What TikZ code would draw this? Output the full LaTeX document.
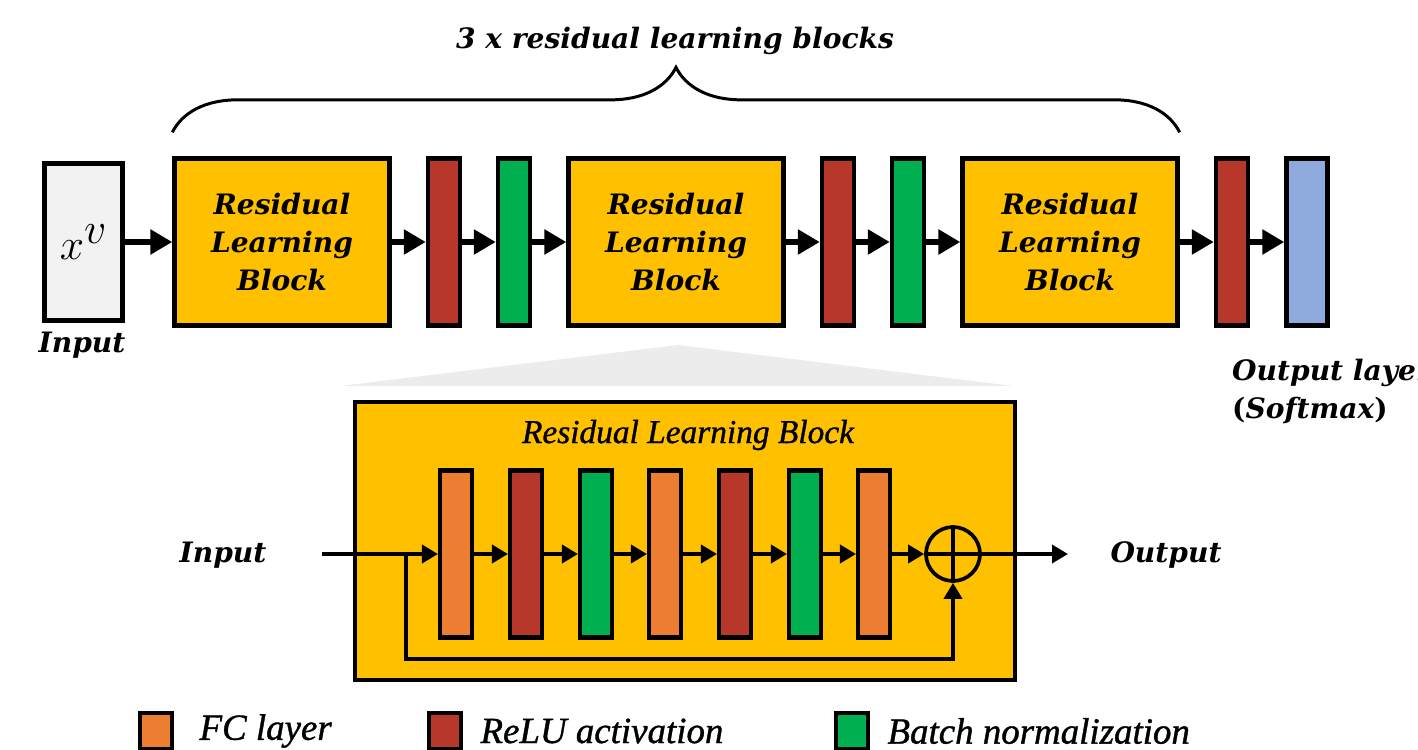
\documentclass[tikz,border=0pt]{standalone}
\usepackage{fontspec}
\setmainfont{DejaVu Serif}
\newfontfamily\legfont[FakeBold=1]{Liberation Serif}
\usetikzlibrary{arrows.meta, positioning, decorations.pathreplacing}
\definecolor{rlbyellow}{HTML}{FFC000}
\definecolor{fcorange}{HTML}{ED7D31}
\definecolor{relured}{HTML}{B7382A}
\definecolor{bngreen}{HTML}{00B050}
\definecolor{outblue}{HTML}{8FAADC}
\definecolor{ingrey}{HTML}{F2F2F2}
\tikzset{
  bbi/.style={font=\bfseries\itshape\fontsize{16}{21.8}\selectfont},
  legtxt/.style={font=\legfont\itshape\fontsize{21}{23}\selectfont, inner sep=0pt},
  blk/.style={rectangle, draw, line width=2.5pt, fill=rlbyellow, minimum width=4.3cm,
              minimum height=3.34cm, align=center, bbi},
  bar/.style={rectangle, draw, line width=2.5pt, minimum width=0.64cm, minimum height=3.34cm},
  ibar/.style={bar, line width=2.3pt},
  fc/.style={fill=fcorange},
  relu/.style={fill=relured},
  bnorm/.style={fill=bngreen},
  legsq/.style={rectangle, draw, line width=2.5pt, minimum width=0.64cm, minimum height=0.72cm},
  thickarr/.style={line width=3.4pt, -{Triangle[length=0.44cm, width=0.48cm]}},
  thinarr/.style={line width=2.1pt, -{Triangle[length=0.32cm, width=0.36cm]}},
}
\begin{document}
\begin{tikzpicture}[x=0.02cm, y=-0.02cm]
  \useasboundingbox (0,0) rectangle (1418,750);
  % top row
  \node[rectangle, draw, line width=2.5pt, fill=ingrey, minimum width=1.56cm, minimum height=3.14cm]
    (xin) at (83.5,242) {\fontsize{34}{36}\selectfont$x^{v}$};
  \node[bbi] (inlbl) at (82,345) {Input};
  \node[blk] (rlb1) at (282,242) {Residual\\Learning\\Block};
  \node[bar, relu] (r1) at (444,242) {};
  \node[bar, bnorm] (g1) at (514,242) {};
  \node[blk] (rlb2) at (676,242) {Residual\\Learning\\Block};
  \node[bar, relu] (r2) at (838,242) {};
  \node[bar, bnorm] (g2) at (908,242) {};
  \node[blk] (rlb3) at (1070,242) {Residual\\Learning\\Block};
  \node[bar, relu] (r3) at (1232,242) {};
  \node[bar, fill=outblue, minimum width=0.82cm] (outl) at (1307,242) {};
  \foreach \a/\b in {xin/rlb1, rlb1/r1, r1/g1, g1/rlb2, rlb2/r2, r2/g2, g2/rlb3, rlb3/r3, r3/outl}
    \draw[thickarr] (\a) -- (\b);
  \node[bbi, anchor=west] (outlbl1) at (1226,373) {Output layer};
  \node[bbi, anchor=west] (outlbl2) at (1226,410) {{\upshape(}Softmax{\upshape)}};
  % brace
  \draw[decorate, decoration={brace, amplitude=1.3cm}, line width=1.7pt]
    ([yshift=0.48cm]rlb1.north west) -- ([yshift=0.48cm]rlb3.north east);
  \node[bbi] (title) at (675,41) {3 x residual learning blocks};
  % zoom fan
  \fill[gray!15] (340,386) -- (678,345) -- (1013,386) -- cycle;
  % expanded block
  \node[rectangle, draw, line width=2.5pt, fill=rlbyellow, minimum width=13.2cm, minimum height=5.56cm]
    (rlbin) at (685,541) {};
  \node[font=\legfont\itshape\fontsize{19}{21}\selectfont] (rlbtitle) at (688,435) {Residual Learning Block};
  \foreach \n/\c/\x in {1/fc/456, 2/relu/526, 3/bnorm/596, 4/fc/665, 5/relu/735, 6/bnorm/805, 7/fc/874}
    \node[ibar, \c] (l\n) at (\x,554) {};
  \foreach \a/\b in {l1/l2, l2/l3, l3/l4, l4/l5, l5/l6, l6/l7}
    \draw[thinarr] (\a) -- (\b);
  \node[circle, draw, line width=2.1pt, minimum size=1.08cm, inner sep=0pt] (sum) at (953,554) {};
  \draw[line width=2.1pt] (sum.north) -- (sum.south) (sum.west) -- (sum.east);
  \coordinate (inL) at (322,554);
  \coordinate (skip) at (406,554);
  \coordinate (skipb) at (406,659);
  \coordinate (outR) at (1068,554);
  \draw[thinarr] (inL) -- (l1);
  \draw[thinarr] (l7) -- (sum);
  \draw[thinarr] (skip) -- (skipb) -| (sum.south);
  \draw[thinarr] (sum.east) -- (outR);
  \node[bbi] (inlbl2) at (223,555) {Input};
  \node[bbi] (outlbl) at (1166,555) {Output};
  % legend
  \node[legsq, fc] (kfc) at (156,731) {};
  \node[legtxt, right=0.5cm of kfc] (tfc) {FC layer};
  \node[legsq, relu] (krelu) at (445,731) {};
  \node[legtxt, right=0.34cm of krelu] (trelu) {ReLU activation};
  \node[legsq, bnorm] (kbn) at (852,731) {};
  \node[legtxt, right=0.34cm of kbn] (tbn) {Batch normalization};
\end{tikzpicture}
\end{document}
